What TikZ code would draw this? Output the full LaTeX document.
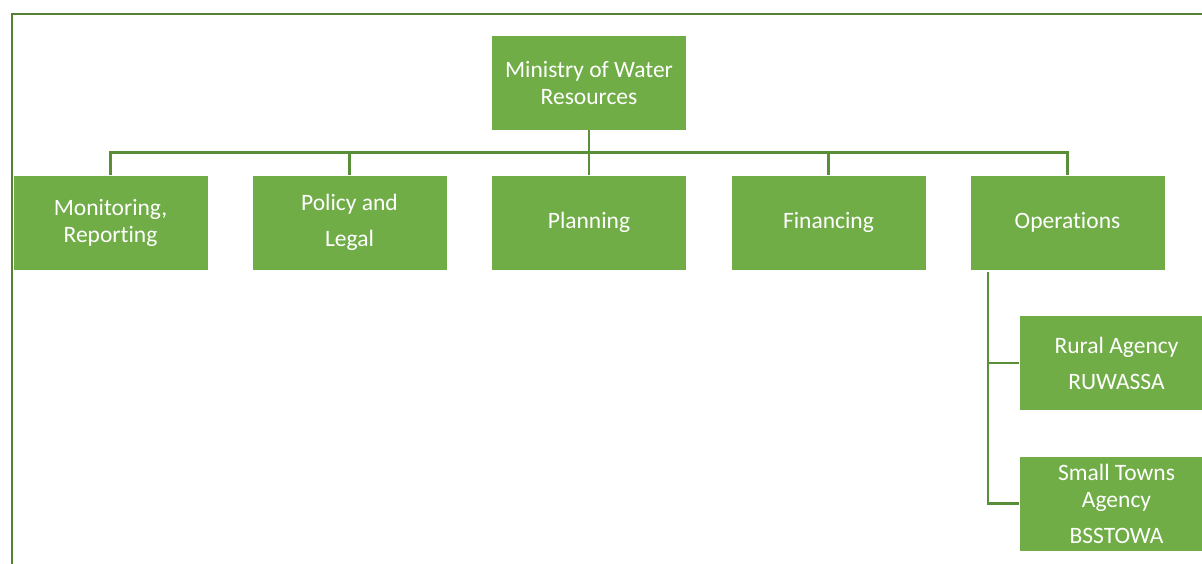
\documentclass[tikz,border=0pt]{standalone}
\usepackage{fontspec}
\setmainfont{Carlito}[Ligatures=CommonOff]
\definecolor{boxgreen}{HTML}{70AD47}
\definecolor{linegreen}{HTML}{5A8F3A}
\definecolor{framegreen}{HTML}{548235}
\begin{document}
\begin{tikzpicture}[x=1pt,y=-1pt,
  unitbox/.style={fill=boxgreen, draw=white, line width=0.8pt, minimum width=195pt,
    minimum height=95pt, inner sep=0pt, text=white, align=center,
    font=\fontsize{23.5}{27}\selectfont},
  link/.style={draw=linegreen, line width=2.6pt}]
\useasboundingbox (0,0) rectangle (1202,563);
\clip (0,0) rectangle (1202,563);
\fill[white] (0,0) rectangle (1202,563);
% outer frame, running past the page edges on the right and bottom
\draw[framegreen, line width=2pt] (12,590) -- (12,14) -- (1230,14);

% boxes
\node[unitbox] (min) at (589,82.5) {Ministry of Water\\Resources};
\node[unitbox] (mon) at (110.5,222.5) {Monitoring,\\Reporting};
\node[unitbox] (pol) at (349.5,222.5) {Policy and\\[9pt]Legal};
\node[unitbox] (pla) at (589,222.5) {Planning};
\node[unitbox] (fin) at (828.5,222.5) {Financing};
\node[unitbox] (ops) at (1067.5,222.5) {Operations};
\node[unitbox] (rur) at (1116.5,363) {Rural Agency\\[9pt]RUWASSA};
\node[unitbox] (sma) at (1116.5,503.5) {Small Towns\\Agency\\[9pt]BSSTOWA};

% connectors
\coordinate (bus) at (589,152.5);
\draw[link] (min.south) -- (bus);
\draw[link] (mon.north) -- (mon.north |- bus) -- (ops.north |- bus) -- (ops.north);
\draw[link] (pol.north) -- (pol.north |- bus);
\draw[link] (pla.north) -- (pla.north |- bus);
\draw[link] (fin.north) -- (fin.north |- bus);
\coordinate (trunk) at (988,272);
\draw[link] (trunk) -- (trunk |- sma.west) -- (sma.west);
\draw[link] (trunk |- rur.west) -- (rur.west);
\end{tikzpicture}
\end{document}
